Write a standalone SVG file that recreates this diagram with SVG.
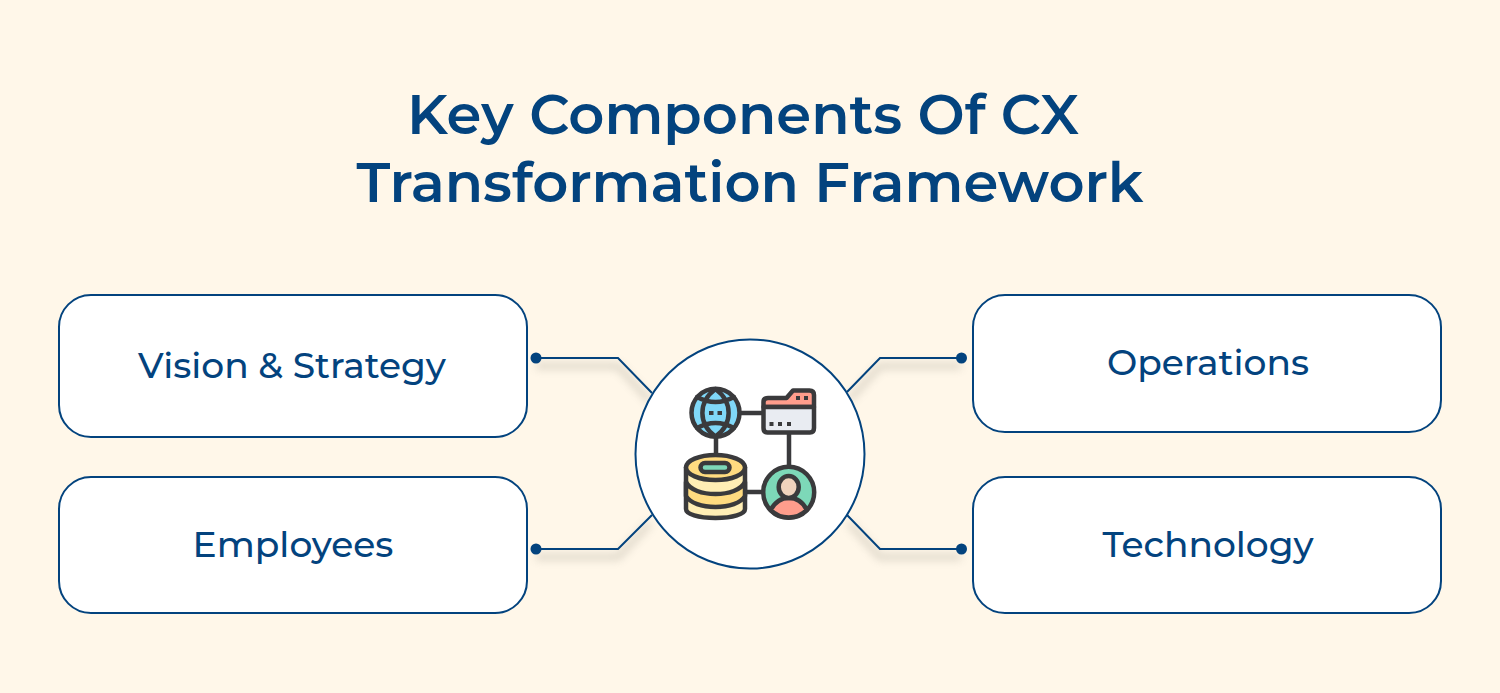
<svg xmlns="http://www.w3.org/2000/svg" width="1500" height="693" viewBox="0 0 1500 693">
<defs>
<style>
.box{fill:#fff;stroke:#03437e;stroke-width:2}
.lbl{font-family:"Montserrat","Noto Sans","Open Sans",sans-serif;font-size:36px;fill:#03437e;text-anchor:middle;font-weight:500}
.ttl{font-family:"Montserrat","Noto Sans","Open Sans",sans-serif;font-size:56px;fill:#03437e;text-anchor:middle;font-weight:600}
.con{fill:none;stroke:#03437e;stroke-width:2}
.shd{fill:none;stroke:#8a8578;stroke-width:6;opacity:.3;filter:url(#b)}
.ic{stroke:#3a3a3c;stroke-width:4.500;stroke-linejoin:round;stroke-linecap:round}
.ln{fill:none}
</style>
<filter id="b" x="-30%" y="-60%" width="160%" height="220%"><feGaussianBlur stdDeviation="4.500"/></filter>
</defs>
<rect width="1500" height="693" fill="#fff7e9"/>
<g id="title"><text class="ttl" x="743" y="134">Key Components Of CX</text><text class="ttl" x="750" y="202">Transformation Framework</text></g>
<g id="connectors">
<path class="shd" d="M536 366H618L650 401M961 366H880L849 400M536 557H618L650 523M961 557H880L849 523"/>
<path class="con" d="M536 358H618L652 393M961.500 358H880L847 392M536 549H618L652 515M961.500 549H880L847 515"/>
<g fill="#03437e"><circle cx="536" cy="358" r="5.500"/><circle cx="961.500" cy="358" r="5.500"/><circle cx="536" cy="549" r="5.500"/><circle cx="961.500" cy="549" r="5.500"/></g>
</g>
<g id="node-vision"><rect class="box" x="59" y="295" width="468" height="142" rx="32"/><text class="lbl" x="292" y="378">Vision &amp; Strategy</text></g>
<g id="node-employees"><rect class="box" x="59" y="477" width="468" height="136" rx="32"/><text class="lbl" x="293" y="557">Employees</text></g>
<g id="node-operations"><rect class="box" x="973" y="295" width="468" height="137" rx="32"/><text class="lbl" x="1208" y="375">Operations</text></g>
<g id="node-technology"><rect class="box" x="973" y="477" width="468" height="136" rx="32"/><text class="lbl" x="1208" y="557">Technology</text></g>
<g id="node-center">
<circle cx="750" cy="454" r="114.500" fill="#fff" stroke="#03437e" stroke-width="2"/>
<path class="ic ln" d="M716 436V456M738 413H764M789 432V468M746 492H764"/>
<circle cx="715.500" cy="412.700" r="24" fill="#80d8f8" class="ic"/>
<path class="ic ln" d="M715.500 389C698 402 698 424 715.500 436.500C733 424 733 402 715.500 389ZM697 397Q715.500 407 734 397M697 428Q715.500 418 734 428"/>
<path d="M709 411h4.500v4h-4.500zM717.500 411h4.500v4h-4.500z" fill="#3a3a3c"/>
<path class="ic" d="M763.500 407V402Q763.500 398 768 398H786.500L793 390.500H809.500Q814 390.500 814 395V407Z" fill="#ff9d8c"/>
<path class="ic" d="M763.500 407H814V428Q814 432.500 810 432.500H767.500Q763.500 432.500 763.500 428Z" fill="#e9ecf2"/>
<path d="M796 396h4v4h-4zM804 396h4v4h-4zM769.500 422h4v4h-4zM778 422h4v4h-4zM787 422h4v4h-4z" fill="#3a3a3c"/>
<path class="ic" d="M686 467V509C686 514 698 518 715.500 518C733 518 745 514 745 509V467Z" fill="#ffeeb5"/>
<path class="ic" d="M686 482C690 490 702 494 715.500 494C729 494 741 490 745 482V496C741 503 729 507 715.500 507C702 507 690 503 686 496Z" fill="#ffdb80"/>
<ellipse class="ic" cx="715.500" cy="467.500" rx="29.500" ry="12.500" fill="#ffdb80"/>
<rect class="ic" x="700.500" y="463" width="29" height="9" rx="4.500" fill="#7dd8b8"/>
<circle cx="788.700" cy="492.300" r="25.500" fill="#7dd8b8" class="ic"/>
<path class="ic" d="M770.700 510C775 502 782 498 788.700 498C796 498 803 502 806.700 510A25.500 25.500 0 0 1 770.700 510Z" fill="#ff9d8c"/>
<ellipse cx="788.700" cy="487" rx="10" ry="11" fill="#f0d3bd" class="ic"/>
</g>
</svg>
